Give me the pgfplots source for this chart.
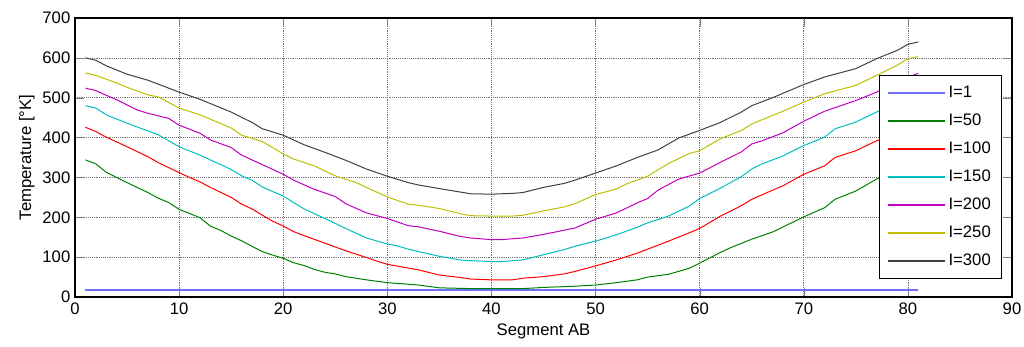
\documentclass[border=0pt]{standalone}
\usepackage{fontspec}
\setmainfont{Liberation Sans}
\usepackage{pgfplots}
\pgfplotsset{compat=1.18}

% MATLAB-style default line colours
\definecolor{mBlue}{rgb}{0.43,0.43,1}
\definecolor{mGreen}{rgb}{0,0.5,0}
\definecolor{mRed}{rgb}{1,0,0}
\definecolor{mCyan}{rgb}{0,0.75,0.75}
\definecolor{mMagenta}{rgb}{0.75,0,0.75}
\definecolor{mYellow}{rgb}{0.75,0.75,0}
\definecolor{mBlack}{rgb}{0.25,0.25,0.25}

\begin{document}
\begin{tikzpicture}
\begin{axis}[
  scale only axis,
  width=702.75pt, height=209.25pt,
  xmin=0, xmax=90, ymin=0, ymax=700,
  xtick={0,10,...,90}, ytick={0,100,...,700},
  tick align=inside,
  major tick length=6.5pt,
  xtick pos=both, ytick pos=both,
  grid=major,
  grid style={densely dotted, black!55, line width=0.5pt},
  axis line style={black, line width=0.8pt},
  /pgf/number format/assume math mode=true,
  tick label style={font=\fontsize{12.5}{14}\selectfont, black},
  label style={font=\fontsize{12.5}{14}\selectfont},
  xlabel={Segment AB},
  ylabel={Temperature [°K]},
  ylabel style={yshift=-1pt},
  xticklabel style={yshift=-1pt},
  legend style={
    at={(0.9893,0.7957)}, anchor=north east,
    draw=black, line width=0.8pt, fill=white,
    font=\fontsize{12.5}{14}\selectfont,
    row sep=6.8pt, inner xsep=6pt, inner ysep=6pt,
    cells={anchor=west},
  },
  legend image code/.code={\draw[#1, line width=1pt] (0pt,0pt) -- (43pt,0pt);},
  every axis plot/.append style={line width=0.75pt},
]
% I = 1
\addplot[mBlue, line width=1.3pt] coordinates {(1,18) (81,18)};
\addlegendentry{I=1}
% I = 50
\addplot[mGreen] coordinates {
(1,344) (2,334) (3,313) (4,300) (5,287) (7,262) (8,248) (9,237) (10,220)
(12,199) (13,178) (14,167) (15,153) (16,141) (17,127) (18,114) (19,105)
(20,97) (21,86) (22,79) (23,69) (24,62) (25,58) (26,51) (28,43) (30,36)
(33,30) (35,23) (38,21) (40,21) (43,21) (45,24) (47,26) (48,27) (50,30)
(52,36) (54,43) (55,50) (57,57) (59,72) (60,85) (62,112) (63,124) (65,145)
(67,163) (70,201) (72,224) (73,245) (75,266) (77,296) (78,308) (79,318) (81,338)};
\addlegendentry{I=50}
% I = 100
\addplot[mRed] coordinates {
(1,426) (2,415) (3,401) (5,377) (7,352) (8,337) (10,312) (11,300) (12,289)
(13,275) (15,250) (16,233) (17,221) (18,205) (19,190) (20,178) (21,164)
(22,154) (24,135) (26,116) (28,99) (29,90) (30,82) (33,68) (35,55) (37,49)
(38,45) (40,43) (42,43) (43,47) (45,51) (47,58) (48,64) (50,78) (52,93)
(54,110) (55,120) (57,140) (59,161) (60,172) (62,203) (64,229) (65,245)
(67,268) (68,279) (70,308) (72,329) (73,350) (75,367) (77,392) (78,401)
(79,412) (81,432)};
\addlegendentry{I=100}
% I = 150
\addplot[mCyan] coordinates {
(1,480) (2,474) (3,457) (5,436) (8,407) (10,377) (12,356) (15,320) (16,304)
(17,293) (18,276) (20,253) (21,237) (22,221) (23,209) (24,197) (26,172)
(28,148) (30,133) (31,128) (32,120) (33,114) (35,102) (37,93) (38,91)
(40,89) (41,89) (43,93) (45,106) (47,119) (48,127) (50,140) (52,156)
(54,175) (55,186) (57,203) (59,228) (60,247) (62,273) (64,302) (65,321)
(66,334) (68,354) (70,380) (72,401) (73,422) (75,439) (77,464) (79,485) (81,503)};
\addlegendentry{I=150}
% I = 200
\addplot[mMagenta] coordinates {
(1,524) (2,518) (3,506) (4,495) (6,469) (7,461) (9,448) (10,431) (12,411)
(13,394) (15,375) (16,356) (18,332) (20,308) (21,293) (23,270) (25,252)
(26,234) (28,211) (30,197) (32,179) (33,176) (35,165) (37,152) (38,148)
(40,144) (41,144) (43,148) (45,157) (48,173) (50,195) (52,211) (54,236)
(55,247) (56,268) (58,296) (60,311) (62,338) (64,364) (65,384) (66,392)
(68,412) (70,441) (72,466) (75,493) (77,514) (79,542) (81,561)};
\addlegendentry{I=200}
% I = 250
\addplot[mYellow] coordinates {
(1,562) (2,556) (4,537) (5,526) (7,507) (8,502) (10,474) (12,457) (15,424)
(16,406) (18,390) (20,359) (21,346) (23,329) (24,316) (25,304) (27,287)
(30,251) (32,233) (33,230) (35,222) (37,209) (38,204) (40,203) (42,203)
(43,205) (45,216) (47,226) (48,234) (50,257) (52,271) (53,284) (55,303)
(57,335) (59,360) (60,367) (62,397) (64,418) (65,434) (66,445) (68,466)
(70,489) (72,510) (75,531) (77,556) (79,582) (80,598) (81,603)};
\addlegendentry{I=250}
% I = 300
\addplot[mBlack] coordinates {
(1,600) (2,594) (3,580) (5,559) (7,544) (10,514) (12,496) (15,464) (17,438)
(18,422) (20,406) (21,394) (22,382) (24,363) (26,343) (28,321) (30,303)
(32,287) (33,281) (35,272) (38,259) (40,258) (42,260) (43,262) (45,275)
(47,285) (48,293) (50,311) (52,329) (54,350) (56,369) (58,399) (60,418)
(62,438) (64,464) (65,480) (67,500) (70,533) (72,552) (75,573) (77,598)
(79,619) (80,634) (81,640)};
\addlegendentry{I=300}
\end{axis}
\pgfresetboundingbox
\path (current axis.south west) ++(-56.25pt,-37.5pt) rectangle ([xshift=9pt,yshift=13.5pt]current axis.north east);
\end{tikzpicture}
\end{document}
